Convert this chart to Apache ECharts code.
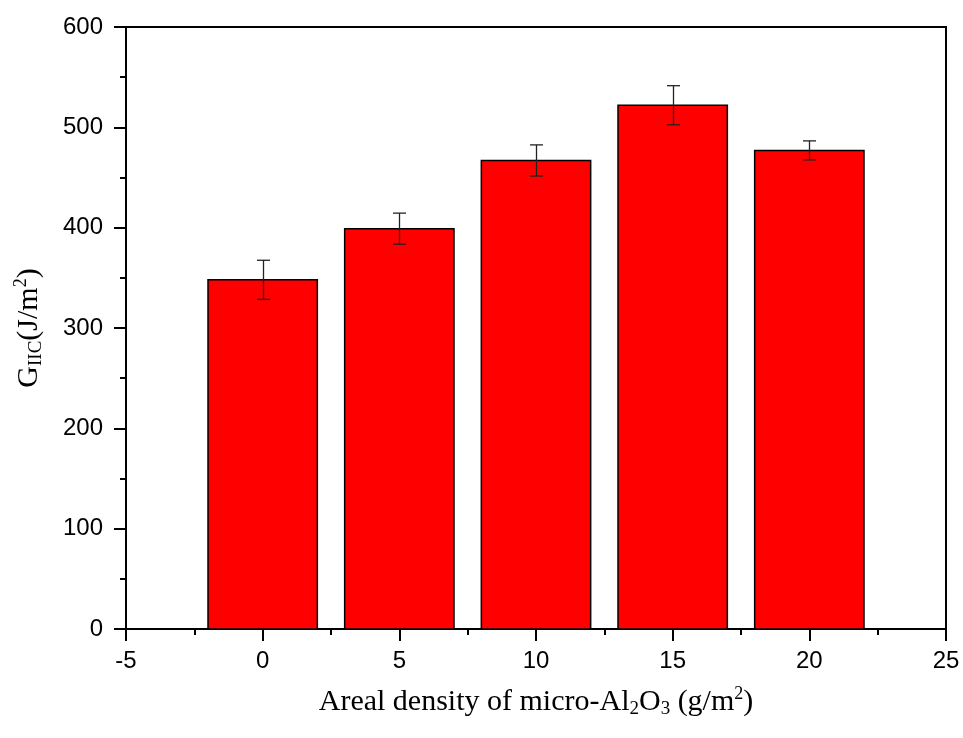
<!DOCTYPE html>
<html>
<head>
<meta charset="utf-8">
<script src="https://cdn.jsdelivr.net/npm/echarts@6/dist/echarts.min.js"></script>
<style>
  html, body { margin: 0; padding: 0; background: #fff; }
  #main { width: 963px; height: 738px; }
</style>
</head>
<body>
<div id="main"></div>
<script>
// areal density of micro-Al2O3 (g/m2)
const densities = [0, 5, 10, 15, 20];
// GIIC mean values (J/m2)
const giic = [348, 399, 467, 522, 477];
// +/- error
const giicErr = [19.5, 15.5, 15.5, 19.5, 9.5];

const xTicks = [-5, 0, 5, 10, 15, 20, 25];
const yTicks = [0, 100, 200, 300, 400, 500, 600];

const barSpan = 4; // bar width in x units
const capPx = 13;

let myChart = echarts.init(document.getElementById('main'));

let seriesData = densities.map((d, i) => [d, giic[i], giicErr[i]]);

let nameRich = {
    n: { fontFamily: 'Liberation Serif', fontSize: 30, color: '#000', lineHeight: 34 },
    sub: { fontFamily: 'Liberation Serif', fontSize: 19, color: '#000', lineHeight: 8, verticalAlign: 'bottom' },
    sup: { fontFamily: 'Liberation Serif', fontSize: 18, color: '#000', lineHeight: 14, verticalAlign: 'top' }
};

let option = {
    animation: false,
    grid: {
        left: 126, right: 17, top: 27, bottom: 109,
        show: true, borderColor: '#000', borderWidth: 2, backgroundColor: 'transparent'
    },
    xAxis: {
        type: 'value',
        min: xTicks[0], max: xTicks[xTicks.length - 1], interval: 5,
        name: '{n|Areal density of micro-Al}{sub|2}{n|O}{sub|3}{n| (g/m}{sup|2}{n|)}',
        nameLocation: 'middle', nameGap: 56,
        nameTextStyle: { rich: nameRich },
        axisLine: { onZero: false, lineStyle: { color: '#000', width: 2 } },
        axisTick: { inside: false, length: 12, lineStyle: { color: '#000', width: 2 } },
        minorTick: { show: true, splitNumber: 2, length: 6, lineStyle: { color: '#000', width: 2 } },
        axisLabel: { margin: 20, fontFamily: 'Liberation Sans', fontSize: 24, color: '#000' },
        splitLine: { show: false }
    },
    yAxis: {
        type: 'value',
        min: yTicks[0], max: yTicks[yTicks.length - 1], interval: 100,
        name: '{n|G}{sub|IIC}{n|(J/m}{sup|2}{n|)}',
        nameLocation: 'middle', nameGap: 80,
        nameTextStyle: { rich: nameRich },
        axisLine: { show: true, onZero: false, lineStyle: { color: '#000', width: 2 } },
        axisTick: { show: true, inside: false, length: 12, lineStyle: { color: '#000', width: 2 } },
        minorTick: { show: true, splitNumber: 2, length: 6, lineStyle: { color: '#000', width: 2 } },
        axisLabel: { margin: 23, fontFamily: 'Liberation Sans', fontSize: 24, color: '#000' },
        splitLine: { show: false }
    },
    series: [{
        type: 'custom',
        data: seriesData,
        encode: { x: 0, y: 1 },
        renderItem: function (params, api) {
            const x = api.value(0), v = api.value(1), e = api.value(2);
            const base = api.coord([x, 0]);
            const top = api.coord([x, v]);
            const w = api.size([barSpan, 0])[0];
            const hi = api.coord([x, v + e]);
            const lo = api.coord([x, v - e]);
            const cx = Math.round(top[0]) + 0.5;
            return {
                type: 'group',
                children: [{
                    type: 'rect',
                    shape: { x: top[0] - w / 2, y: top[1], width: w, height: base[1] - top[1] },
                    style: { fill: '#ff0000', stroke: '#000', lineWidth: 1.5 }
                }, {
                    type: 'line',
                    shape: { x1: cx, y1: hi[1], x2: cx, y2: lo[1] },
                    style: { stroke: '#222', lineWidth: 1.3 }
                }, {
                    type: 'line',
                    shape: { x1: cx - capPx / 2, y1: hi[1], x2: cx + capPx / 2, y2: hi[1] },
                    style: { stroke: '#222', lineWidth: 1.3 }
                }, {
                    type: 'line',
                    shape: { x1: cx - capPx / 2, y1: lo[1], x2: cx + capPx / 2, y2: lo[1] },
                    style: { stroke: '#222', lineWidth: 1.3 }
                }]
            };
        },
        z: 1
    }]
};

myChart.setOption(option);
</script>
</body>
</html>
